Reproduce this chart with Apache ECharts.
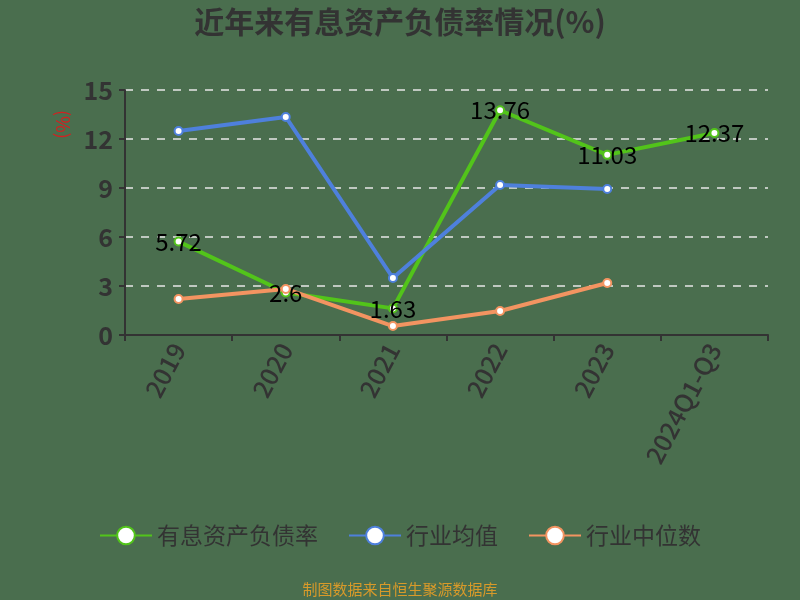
<!DOCTYPE html>
<html><head><meta charset="utf-8">
<script src="https://cdn.jsdelivr.net/npm/echarts@6/dist/echarts.min.js"></script>
<style>html,body{margin:0;padding:0;background:#4a6e4e;}#c{width:800px;height:600px;}</style>
</head><body><div id="c"></div>
<script>
const categories = ['2019','2020','2021','2022','2023','2024Q1-Q3'];
const ratio = [5.72, 2.6, 1.63, 13.76, 11.03, 12.37];
const industryAvg = [12.49, 13.35, 3.49, 9.18, 8.94, null];
const industryMedian = [2.2, 2.82, 0.55, 1.47, 3.18, null];
const yTicks = {min: 0, max: 15, interval: 3};

const chart = echarts.init(document.getElementById('c'));
const font = '"Noto Sans CJK SC", "Noto Sans", sans-serif';
chart.setOption({
  backgroundColor: '#4a6e4e',
  title: {text: '近年来有息资产负债率情况(%)', left: 'center', top: 2,
    textStyle: {color: '#333', fontSize: 30, fontWeight: 'bold', fontFamily: font}},
  grid: {left: 125, right: 32, top: 90, bottom: 265},
  legend: {bottom: 48, itemWidth: 52, itemHeight: 22, itemGap: 30,
    textStyle: {color: '#333', fontSize: 23, fontFamily: font}},
  graphic: [
    {type: 'text', left: 'center', top: 582,
      style: {text: '制图数据来自恒生聚源数据库', fill: '#d89a2a', fontSize: 15, fontFamily: font}},
    {type: 'text', x: 72, y: 110, rotation: -Math.PI / 2,
      style: {text: '(%)', fill: '#d42020', fontSize: 18, fontFamily: font}}
  ],
  xAxis: {type: 'category', data: categories, boundaryGap: true,
    axisLine: {lineStyle: {color: '#333', width: 2}},
    axisTick: {show: true, length: 6, lineStyle: {color: '#333', width: 2}},
    axisLabel: {rotate: 62, color: '#333', fontSize: 25, fontWeight: 500, fontFamily: font, margin: 10}},
  yAxis: {type: 'value', min: yTicks.min, max: yTicks.max, interval: yTicks.interval,
    axisLine: {show: true, lineStyle: {color: '#333', width: 2}},
    axisTick: {show: true, length: 6, lineStyle: {color: '#333', width: 2}},
    axisLabel: {color: '#333', fontSize: 25, fontWeight: 'bold', fontFamily: font, margin: 12},
    splitLine: {lineStyle: {color: '#e8e8e8', type: [8, 8], width: 1.5}}},
  series: [
    {name: '有息资产负债率', type: 'line', data: ratio, symbol: 'circle', symbolSize: 8,
      itemStyle: {color: '#fff', borderColor: '#52c41a', borderWidth: 2},
      lineStyle: {color: '#52c41a', width: 4},
      label: {show: true, position: 'inside', color: '#000', fontSize: 24, fontFamily: font}},
    {name: '行业均值', type: 'line', data: industryAvg, symbol: 'circle', symbolSize: 8,
      itemStyle: {color: '#fff', borderColor: '#4e80dc', borderWidth: 2},
      lineStyle: {color: '#4e80dc', width: 4}},
    {name: '行业中位数', type: 'line', data: industryMedian, symbol: 'circle', symbolSize: 8,
      itemStyle: {color: '#fff', borderColor: '#f39461', borderWidth: 2},
      lineStyle: {color: '#f39461', width: 4}}
  ]
});
</script></body></html>
